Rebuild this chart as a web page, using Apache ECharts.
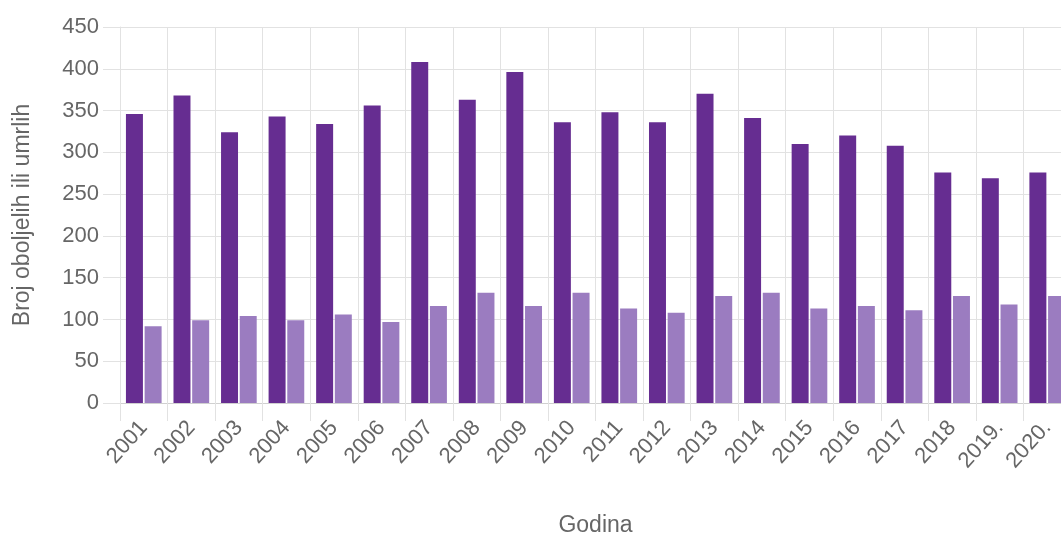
<!DOCTYPE html>
<html>
<head>
<meta charset="utf-8">
<script src="https://cdn.jsdelivr.net/npm/echarts@6/dist/echarts.min.js"></script>
<style>
html,body{margin:0;padding:0;background:#fff;overflow:hidden;}
#chart{width:1061px;height:535px;}
</style>
</head>
<body>
<div id="chart"></div>
<script>
var categories = ['2001','2002','2003','2004','2005','2006','2007','2008','2009','2010','2011','2012','2013','2014','2015','2016','2017','2018','2019.','2020.'];
var seriesDark = [346,368,324,343,334,356,408,363,396,336,348,336,370,341,310,320,308,276,269,276];
var seriesLight = [92,99,104,99,106,97,116,132,116,132,113,108,128,132,113,116,111,128,118,128];
var yTicks = {min: 0, max: 450, interval: 50};

var font = '"Liberation Sans", Arial, sans-serif';
var chart = echarts.init(document.getElementById('chart'));
chart.setOption({
  animation: false,
  backgroundColor: '#fff',
  grid: {left: 120, right: -10, top: 27, bottom: 132, containLabel: false, outerBoundsMode: 'none'},
  xAxis: {
    type: 'category',
    data: categories,
    boundaryGap: true,
    name: 'Godina',
    nameLocation: 'middle',
    nameGap: 111,
    nameTextStyle: {fontFamily: font, fontSize: 23, color: '#666'},
    axisLine: {show: true, lineStyle: {color: '#d0d0d0', width: 1}},
    axisTick: {show: true, length: 18, alignWithLabel: false, lineStyle: {color: '#e2e2e2'}},
    axisLabel: {rotate: 48, margin: 21, fontFamily: font, fontSize: 22, color: '#666', interval: 0},
    splitLine: {show: true, lineStyle: {color: '#e2e2e2', width: 1}}
  },
  yAxis: {
    type: 'value',
    min: yTicks.min, max: yTicks.max, interval: yTicks.interval,
    name: 'Broj oboljelih ili umrlih',
    nameLocation: 'middle',
    nameGap: 86,
    nameTextStyle: {fontFamily: font, fontSize: 23, color: '#666'},
    axisLine: {show: true, lineStyle: {color: '#e2e2e2'}},
    axisTick: {show: true, length: 17, lineStyle: {color: '#e2e2e2'}},
    axisLabel: {margin: 21, fontFamily: font, fontSize: 22, color: '#666'},
    splitLine: {show: true, lineStyle: {color: '#e2e2e2', width: 1}}
  },
  series: [
    {type: 'bar', data: seriesDark, barCategoryGap: '25%', barGap: '10%', itemStyle: {color: '#662d91'}},
    {type: 'bar', data: seriesLight, itemStyle: {color: '#9b7cc0'}}
  ]
});
</script>
</body>
</html>
